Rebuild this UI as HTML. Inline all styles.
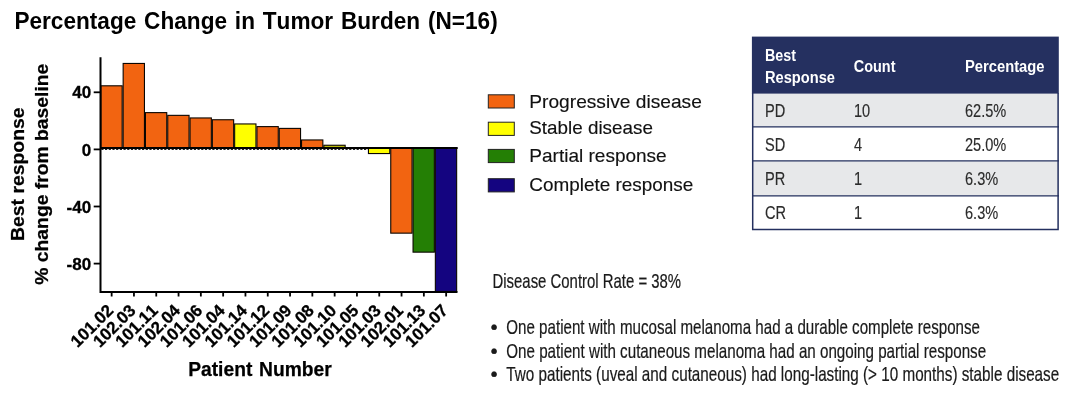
<!DOCTYPE html>
<html lang="en"><head><meta charset="utf-8"><title>Percentage Change in Tumor Burden</title>
<style>
html,body{margin:0;padding:0;background:#fff;}
body{width:1080px;height:401px;overflow:hidden;}
svg{display:block;}
text{font-family:"Liberation Sans",Arial,Helvetica,sans-serif;}
.b{font-weight:bold;fill:#000;stroke:#000;stroke-width:0.25px;}
.tk{font-weight:bold;font-size:17px;font-kerning:none;fill:#000;stroke:#000;stroke-width:0.3px;}
.lg{font-size:19px;fill:#111;stroke:#111;stroke-width:0.15px;}
.th{font-weight:bold;fill:#fff;font-size:16px;}
.td{fill:#2b2b2b;font-size:18px;stroke:#2b2b2b;stroke-width:0.15px;}
.bt{fill:#1a1a1a;font-size:21px;stroke:#1a1a1a;stroke-width:0.22px;}
</style></head><body>
<svg width="1080" height="401" viewBox="0 0 1080 401">
<rect width="1080" height="401" fill="#fff"/>
<text class="b" style="font-kerning:none;word-spacing:1.6px;stroke:none" x="14.4" y="28.9" font-size="23" textLength="483.3" lengthAdjust="spacingAndGlyphs">Percentage Change in Tumor Burden (N=16)</text>
<text class="b" font-size="19.2" text-anchor="middle" transform="translate(24.4 174.2) rotate(-90)" textLength="133.5" lengthAdjust="spacingAndGlyphs">Best response</text>
<text class="b" font-size="19.2" text-anchor="middle" transform="translate(47.9 174.2) rotate(-90)" textLength="221" lengthAdjust="spacingAndGlyphs">% change from baseline</text>
<g stroke="#0a0500" stroke-width="1.1" stroke-linejoin="miter">
<rect x="100.85" y="85.80" width="21.30" height="62.50" fill="#f26411"/>
<rect x="123.15" y="63.45" width="21.30" height="84.85" fill="#f26411"/>
<rect x="145.45" y="112.62" width="21.30" height="35.68" fill="#f26411"/>
<rect x="167.75" y="115.35" width="21.30" height="32.95" fill="#f26411"/>
<rect x="190.05" y="117.95" width="21.30" height="30.35" fill="#f26411"/>
<rect x="212.35" y="119.75" width="21.30" height="28.55" fill="#f26411"/>
<rect x="234.65" y="123.95" width="21.30" height="24.35" fill="#ffff00"/>
<rect x="256.95" y="126.61" width="21.30" height="21.69" fill="#f26411"/>
<rect x="279.25" y="128.40" width="21.30" height="19.90" fill="#f26411"/>
<rect x="301.55" y="139.95" width="21.30" height="8.35" fill="#f26411"/>
<rect x="323.85" y="145.25" width="21.30" height="3.05" fill="#b9b90a"/>
<rect x="368.45" y="148.30" width="21.30" height="5.25" fill="#ffff00"/>
<rect x="390.75" y="148.30" width="21.30" height="84.85" fill="#f26411"/>
<rect x="413.05" y="148.30" width="21.30" height="103.85" fill="#247f05"/>
<rect x="435.35" y="148.30" width="21.30" height="143.15" fill="#140480"/>
</g>
<line x1="100.3" y1="147.93" x2="457.70" y2="147.93" stroke="#000" stroke-width="1.9"/>
<line x1="101.3" y1="149.45" x2="367.90" y2="149.45" stroke="#222" stroke-width="1.1" stroke-dasharray="2.2 1.5"/>
<g stroke="#000" stroke-width="2" fill="none" stroke-linecap="butt">
<path d="M100.5 57.2 V293 M99.5 292 H457.5"/>
</g>
<g stroke="#000" stroke-width="1.8">
<line x1="93.7" y1="92.30" x2="100.5" y2="92.30"/>
<line x1="93.7" y1="149.40" x2="100.5" y2="149.40"/>
<line x1="93.7" y1="206.50" x2="100.5" y2="206.50"/>
<line x1="93.7" y1="263.60" x2="100.5" y2="263.60"/>
<line x1="111.65" y1="292" x2="111.65" y2="296.5"/>
<line x1="133.95" y1="292" x2="133.95" y2="296.5"/>
<line x1="156.25" y1="292" x2="156.25" y2="296.5"/>
<line x1="178.55" y1="292" x2="178.55" y2="296.5"/>
<line x1="200.85" y1="292" x2="200.85" y2="296.5"/>
<line x1="223.15" y1="292" x2="223.15" y2="296.5"/>
<line x1="245.45" y1="292" x2="245.45" y2="296.5"/>
<line x1="267.75" y1="292" x2="267.75" y2="296.5"/>
<line x1="290.05" y1="292" x2="290.05" y2="296.5"/>
<line x1="312.35" y1="292" x2="312.35" y2="296.5"/>
<line x1="334.65" y1="292" x2="334.65" y2="296.5"/>
<line x1="356.95" y1="292" x2="356.95" y2="296.5"/>
<line x1="379.25" y1="292" x2="379.25" y2="296.5"/>
<line x1="401.55" y1="292" x2="401.55" y2="296.5"/>
<line x1="423.85" y1="292" x2="423.85" y2="296.5"/>
<line x1="446.15" y1="292" x2="446.15" y2="296.5"/>
</g>
<text class="tk" x="91.2" y="98.40" text-anchor="end">40</text>
<text class="tk" x="91.2" y="155.50" text-anchor="end">0</text>
<text class="tk" x="91.2" y="212.60" text-anchor="end">-40</text>
<text class="tk" x="91.2" y="269.70" text-anchor="end">-80</text>
<text class="tk" text-anchor="end" transform="translate(114.35 311.5) rotate(-45)">101.02</text>
<text class="tk" text-anchor="end" transform="translate(136.65 311.5) rotate(-45)">102.03</text>
<text class="tk" text-anchor="end" transform="translate(158.95 311.5) rotate(-45)">101.11</text>
<text class="tk" text-anchor="end" transform="translate(181.25 311.5) rotate(-45)">102.04</text>
<text class="tk" text-anchor="end" transform="translate(203.55 311.5) rotate(-45)">101.06</text>
<text class="tk" text-anchor="end" transform="translate(225.85 311.5) rotate(-45)">101.04</text>
<text class="tk" text-anchor="end" transform="translate(248.15 311.5) rotate(-45)">101.14</text>
<text class="tk" text-anchor="end" transform="translate(270.45 311.5) rotate(-45)">101.12</text>
<text class="tk" text-anchor="end" transform="translate(292.75 311.5) rotate(-45)">101.09</text>
<text class="tk" text-anchor="end" transform="translate(315.05 311.5) rotate(-45)">101.08</text>
<text class="tk" text-anchor="end" transform="translate(337.35 311.5) rotate(-45)">101.10</text>
<text class="tk" text-anchor="end" transform="translate(359.65 311.5) rotate(-45)">101.05</text>
<text class="tk" text-anchor="end" transform="translate(381.95 311.5) rotate(-45)">101.03</text>
<text class="tk" text-anchor="end" transform="translate(404.25 311.5) rotate(-45)">102.01</text>
<text class="tk" text-anchor="end" transform="translate(426.55 311.5) rotate(-45)">101.13</text>
<text class="tk" text-anchor="end" transform="translate(448.85 311.5) rotate(-45)">101.07</text>
<text class="b" font-size="19.8" style="word-spacing:1.5px" x="188.2" y="375.6" textLength="143.6" lengthAdjust="spacingAndGlyphs">Patient Number</text>
<rect x="488.3" y="94.8" width="26" height="13.2" fill="#f26411" stroke="#222" stroke-width="1"/>
<text class="lg" x="529.3" y="107.9" textLength="172.5" lengthAdjust="spacingAndGlyphs">Progressive disease</text>
<rect x="488.3" y="122.2" width="26" height="13.2" fill="#ffff00" stroke="#222" stroke-width="1"/>
<text class="lg" x="529.3" y="134.3" textLength="123.6" lengthAdjust="spacingAndGlyphs">Stable disease</text>
<rect x="488.3" y="149.4" width="26" height="13.2" fill="#247f05" stroke="#222" stroke-width="1"/>
<text class="lg" x="529.3" y="162.2" textLength="137.4" lengthAdjust="spacingAndGlyphs">Partial response</text>
<rect x="488.3" y="178.7" width="26" height="13.2" fill="#140480" stroke="#222" stroke-width="1"/>
<text class="lg" x="529.3" y="190.7" textLength="164" lengthAdjust="spacingAndGlyphs">Complete response</text>
<rect x="752" y="93" width="306.6" height="34" fill="#e7e8ea"/>
<rect x="752" y="161" width="306.6" height="35" fill="#e7e8ea"/>
<rect x="751.9" y="36.6" width="306.9" height="57" fill="#253060"/>
<g stroke="#24305f" stroke-width="1.3" fill="none">
<path d="M752.7 93 V229.4 H1058.1 V93" stroke-width="1.5"/>
<path d="M752 126.9 H1059 M752 160.9 H1059 M752 195.9 H1059" stroke-width="1.25"/>
</g>
<text class="th" x="765" y="60.75" textLength="31" lengthAdjust="spacingAndGlyphs">Best</text>
<text class="th" x="765" y="82.5" textLength="70" lengthAdjust="spacingAndGlyphs">Response</text>
<text class="th" x="853.75" y="72" textLength="41.7" lengthAdjust="spacingAndGlyphs">Count</text>
<text class="th" x="965" y="72" textLength="79.5" lengthAdjust="spacingAndGlyphs">Percentage</text>
<text class="td" transform="translate(765 117.2) scale(0.81 1)">PD</text><text class="td" transform="translate(854 117.2) scale(0.81 1)">10</text><text class="td" transform="translate(965 117.2) scale(0.81 1)">62.5%</text>
<text class="td" transform="translate(765 151.2) scale(0.81 1)">SD</text><text class="td" transform="translate(854 151.2) scale(0.81 1)">4</text><text class="td" transform="translate(965 151.2) scale(0.81 1)">25.0%</text>
<text class="td" transform="translate(765 185.2) scale(0.81 1)">PR</text><text class="td" transform="translate(854 185.2) scale(0.81 1)">1</text><text class="td" transform="translate(965 185.2) scale(0.81 1)">6.3%</text>
<text class="td" transform="translate(765 219.2) scale(0.81 1)">CR</text><text class="td" transform="translate(854 219.2) scale(0.81 1)">1</text><text class="td" transform="translate(965 219.2) scale(0.81 1)">6.3%</text>
<text class="bt" x="492.5" y="287.6" textLength="188.6" lengthAdjust="spacingAndGlyphs">Disease Control Rate = 38%</text>
<text class="bt" x="490.6" y="334.0" style="font-size:20.5px">•</text><text class="bt" x="506.3" y="334.2" textLength="473.7" lengthAdjust="spacingAndGlyphs">One patient with mucosal melanoma had a durable complete response</text>
<text class="bt" x="490.6" y="357.6" style="font-size:20.5px">•</text><text class="bt" x="506.3" y="357.8" textLength="479.8" lengthAdjust="spacingAndGlyphs">One patient with cutaneous melanoma had an ongoing partial response</text>
<text class="bt" x="490.6" y="381.2" style="font-size:20.5px">•</text><text class="bt" x="506.3" y="381.4" textLength="552.9" lengthAdjust="spacingAndGlyphs">Two patients (uveal and cutaneous) had long-lasting (&gt; 10 months) stable disease</text>
</svg>
</body></html>
